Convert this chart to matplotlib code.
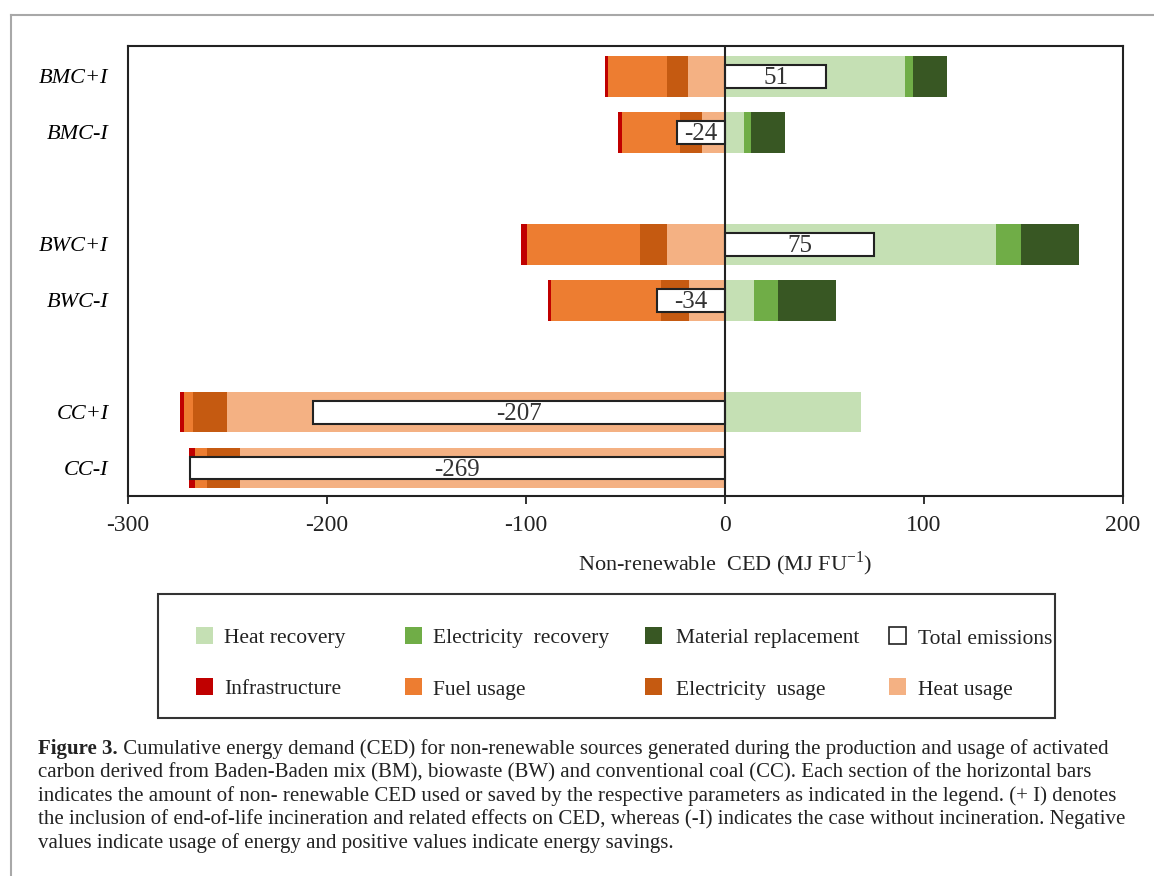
"""Recreate Figure 3: non-renewable CED of activated carbon scenarios."""

from __future__ import annotations

import matplotlib

matplotlib.use("Agg")
import matplotlib.pyplot as plt
import numpy as np
from matplotlib.lines import Line2D
from matplotlib.patches import Rectangle

SERIF = ["Liberation Serif", "DejaVu Serif"]
W, H = 1154, 876

CATEGORIES = ["BMC+I", "BMC-I", "BWC+I", "BWC-I", "CC+I", "CC-I"]
FEEDSTOCK = ["BMC", "BMC", "BWC", "BWC", "CC", "CC"]

# energy used (negative), MJ per FU
INFRASTRUCTURE = [-1.2, -2.0, -3.4, -1.8, -2.1, -2.7]
FUEL_USAGE = [-29.6, -29.3, -56.8, -55.4, -4.6, -6.3]
ELECTRICITY_USAGE = [-10.9, -11.0, -13.6, -14.0, -17.3, -16.6]
HEAT_USAGE = [-18.4, -11.6, -28.9, -17.9, -250.0, -243.6]

# energy saved (positive), MJ per FU
HEAT_RECOVERY = [90.6, 9.4, 136.2, 14.4, 68.3, 0.0]
ELECTRICITY_RECOVERY = [3.7, 3.7, 12.5, 12.1, 0.0, 0.0]
MATERIAL_REPLACEMENT = [17.3, 17.1, 29.2, 29.2, 0.0, 0.0]

TOTAL_EMISSIONS = [51, -24, 75, -34, -207, -269]

X_TICKS = [-300, -200, -100, 0, 100, 200]

COLORS = {
    "Heat recovery": "#C5E0B4",
    "Electricity  recovery": "#70AD47",
    "Material replacement": "#385723",
    "Infrastructure": "#C00000",
    "Fuel usage": "#ED7D31",
    "Electricity  usage": "#C55A11",
    "Heat usage": "#F4B183",
}

LEGEND_ROWS = [
    ["Heat recovery", "Electricity  recovery", "Material replacement",
     "Total emissions"],
    ["Infrastructure", "Fuel usage", "Electricity  usage", "Heat usage"],
]

CAPTION_LINES = [
    " Cumulative energy demand (CED) for non-renewable sources generated during the production and usage of activated",
    "carbon derived from Baden-Baden mix (BM), biowaste (BW) and conventional coal (CC). Each section of the horizontal bars",
    "indicates the amount of non- renewable CED used or saved by the respective parameters as indicated in the legend. (+ I) denotes",
    "the inclusion of end-of-life incineration and related effects on CED, whereas (-I) indicates the case without incineration. Negative",
    "values indicate usage of energy and positive values indicate energy savings.",
]


def fx(px: float) -> float:
    return px / W


def fy(px: float) -> float:
    return 1 - px / H


def row_positions() -> np.ndarray:
    """One slot per bar, plus an empty slot between feedstocks."""
    groups = list(dict.fromkeys(FEEDSTOCK))
    return np.array([i + groups.index(f) for i, f in enumerate(FEEDSTOCK)], float)


def stack(ax, y, series, height):
    """Stack segments outward from zero in the given order."""
    left = np.zeros(len(y))
    for label, values in series:
        values = np.asarray(values, float)
        ax.barh(y, values, left=left, height=height, color=COLORS[label],
                linewidth=0)
        left = left + values


def draw_chart(fig):
    ax = fig.add_axes([0.1109, 0.4338, 0.8622, 0.5137])
    y = row_positions()
    bar_h = 0.73

    stack(ax, y, [
        ("Heat usage", HEAT_USAGE),
        ("Electricity  usage", ELECTRICITY_USAGE),
        ("Fuel usage", FUEL_USAGE),
        ("Infrastructure", INFRASTRUCTURE),
    ], bar_h)
    stack(ax, y, [
        ("Heat recovery", HEAT_RECOVERY),
        ("Electricity  recovery", ELECTRICITY_RECOVERY),
        ("Material replacement", MATERIAL_REPLACEMENT),
    ], bar_h)

    ax.barh(y, TOTAL_EMISSIONS, height=0.41, color="white", edgecolor="#222222",
            linewidth=1.5, zorder=3)
    for yi, total in zip(y, TOTAL_EMISSIONS):
        ax.text(total / 2, yi + 0.04, f"{total}", ha="center", va="center",
                fontsize=18, family=SERIF, color="#333333", zorder=4)

    ax.axvline(0, color="#222222", linewidth=1.5, zorder=5)

    ax.set_xlim(-300, 200)
    ax.set_ylim(7.5, -0.54)
    ax.set_xticks(X_TICKS)
    ax.set_xticklabels([str(t) for t in X_TICKS], family=SERIF, fontsize=17)
    ax.set_yticks(y)
    ax.set_yticklabels(CATEGORIES, family=SERIF, fontsize=16, style="italic")
    ax.tick_params(axis="x", direction="out", length=6, width=1.3, pad=8,
                   colors="#222222")
    ax.tick_params(axis="y", length=0, pad=14)
    for spine in ax.spines.values():
        spine.set_color("#222222")
        spine.set_linewidth(1.5)

    ax.text(0.0, -0.15, "Non-renewable  CED (MJ FU$^{\\mathregular{-1}}$)",
            transform=ax.get_xaxis_transform(), ha="center", va="center",
            fontsize=16, family=SERIF, color="#222222")
    return ax


def draw_legend(fig):
    """Legend drawn by hand so the columns sit where the original has them."""
    fig.add_artist(Rectangle((fx(158), fy(718)), fx(1055) - fx(158),
                             fy(594) - fy(718), transform=fig.transFigure,
                             facecolor="none", edgecolor="#333333",
                             linewidth=1.5))
    marker_x = [196, 405, 645, 889]
    text_x = [224, 433, 676, 918]
    row_y = [635, 686]
    size = 17
    for r, row in enumerate(LEGEND_ROWS):
        for c, name in enumerate(row):
            if name == "Total emissions":
                face, edge = "white", "#222222"
            else:
                face, edge = COLORS[name], "none"
            bottom = row_y[r] + size / 2
            fig.add_artist(Rectangle(
                (fx(marker_x[c]), fy(bottom)), size / W, size / H,
                transform=fig.transFigure, facecolor=face, edgecolor=edge,
                linewidth=1.2))
            fig.text(fx(text_x[c]), fy(bottom), name, fontsize=15.5,
                     family=SERIF, va="baseline", color="#222222")


def draw_caption(fig):
    x0 = fx(38)
    top = 749
    step = 23.5
    size = 15.0
    renderer = fig.canvas.get_renderer()
    bold = fig.text(x0, fy(top), "Figure 3.", fontsize=size, weight="bold",
                    family=SERIF, va="center", color="#222222")
    bbox = bold.get_window_extent(renderer)
    fig.text(bbox.x1 / fig.bbox.width, fy(top), CAPTION_LINES[0],
             fontsize=size, family=SERIF, va="center", color="#222222")
    for i, line in enumerate(CAPTION_LINES[1:], start=1):
        fig.text(x0, fy(top + i * step), line, fontsize=size,
                 family=SERIF, va="center", color="#222222")


def draw_frame(fig):
    color = "#A8A8A8"
    fig.add_artist(Line2D([fx(11), fx(11)], [0, fy(15)],
                          transform=fig.transFigure, color=color, linewidth=1.5))
    fig.add_artist(Line2D([fx(11), 1], [fy(15), fy(15)],
                          transform=fig.transFigure, color=color, linewidth=1.5))


def main() -> None:
    fig = plt.figure(figsize=(W / 100, H / 100), dpi=100)
    draw_frame(fig)
    draw_chart(fig)
    draw_legend(fig)
    draw_caption(fig)
    fig.savefig("out.png", dpi=100)
    plt.close(fig)
    print("Saved out.png")


if __name__ == "__main__":
    main()
